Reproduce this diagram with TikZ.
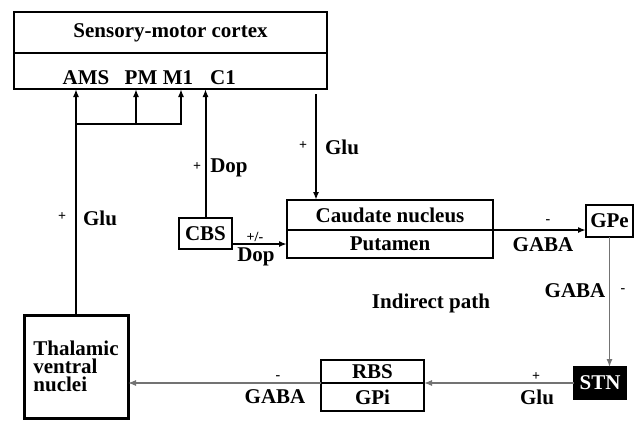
\documentclass[tikz,border=0pt]{standalone}
\usepackage{fontspec}
\setmainfont{Liberation Serif}
\usetikzlibrary{arrows.meta}
\newlength{\boxlinewidth}
\setlength{\boxlinewidth}{1pt}

\begin{document}
\begin{tikzpicture}[x=0.5pt,y=-0.5pt,
        font=\bfseries\fontsize{10.5}{9}\selectfont,
        box/.style={rectangle,draw,line width=\boxlinewidth,inner sep=0pt,outer sep=0pt},
        lbl/.style={inner sep=0pt},
        sign/.style={inner sep=0pt,font=\bfseries\fontsize{7}{8}\selectfont},
        arr/.style={-{Latex[length=4pt,width=3pt]},line width=1pt},
        thinarr/.style={-{Latex[length=4pt,width=3pt]},line width=0.6pt,draw=black!55},
    ]
    \useasboundingbox (0,0) rectangle (638,420);
    % cortex
    \node[box,minimum width=156.5pt,minimum height=20.5pt] (ctxtop) at (170.5,32.5) {Sensory-motor cortex};
    \node[box,minimum width=156.5pt,minimum height=18pt] (ctxbot) at (170.5,71) {};
    \node[lbl] (ams) at (86,78) {AMS};
    \node[lbl] (pm) at (141,78) {PM};
    \node[lbl] (m1) at (178,78) {M1};
    \node[lbl] (c1) at (223,78) {C1};
    \coordinate (pmin) at (136,89);
    \coordinate (m1in) at (181,89);
    \coordinate (jl) at (76,124);
    \coordinate (glutop) at (316,94);
    % boxes
    \node[box,line width=1.5pt,minimum width=52pt,minimum height=51.5pt,align=left] (thal) at (76,366.5) {Thalamic\\ventral\\nuclei};
    \node[box,minimum width=26.5pt,minimum height=15.5pt] (cbs) at (205.5,233.5) {CBS};
    \node[box,minimum width=103pt,minimum height=15pt] (caud) at (390,215) {Caudate nucleus};
    \node[box,minimum width=103pt,minimum height=14pt] (put) at (390,244) {Putamen};
    \node[box,minimum width=23.5pt,minimum height=16pt] (gpe) at (609.5,221) {GPe};
    \node[box,fill=black,text=white,minimum width=26pt,minimum height=16pt] (stn) at (600,383) {STN};
    \node[box,minimum width=51.5pt,minimum height=11.5pt] (rbs) at (372.5,371.5) {RBS};
    \node[box,minimum width=51.5pt,minimum height=14pt] (gpi) at (372.5,397) {GPi};
    % connectors
    \draw[arr] (thal.north) -- (thal.north |- ctxbot.south);
    \draw[arr] (jl) -| (m1in);
    \draw[arr] (jl -| pmin) -- (pmin);
    \draw[arr] (cbs.north) -- (cbs.north |- ctxbot.south);
    \draw[arr] (glutop) -- (glutop |- caud.north);
    \draw[arr] (put.west -| cbs.east) -- (put.west);
    \draw[arr] (put.north east) -- (put.north east -| gpe.west);
    \draw[thinarr] (gpe.south) -- (gpe.south |- stn.north);
    \draw[thinarr] (stn.west) -- (rbs.south east);
    \draw[thinarr] (rbs.south west) -- (rbs.south west -| thal.east);
    % labels
    \node[sign] (p1) at (62,217) {+};
    \node[lbl] (glu1) at (100,218) {Glu};
    \node[sign] (p2) at (197,167) {+};
    \node[lbl] (dop1) at (229,168) {Dop};
    \node[sign] (p3) at (303,146) {+};
    \node[lbl] (glu2) at (342,147) {Glu};
    \node[sign] (pm1) at (255,237) {+/-};
    \node[lbl] (dop2) at (256,257) {Dop};
    \node[sign] (m2) at (548,222) {-};
    \node[lbl] (gaba1) at (543,245) {GABA};
    \node[lbl] (gaba2) at (575,291) {GABA};
    \node[sign] (m3) at (623,291) {-};
    \node[lbl] (ind) at (431,303) {Indirect path};
    \node[sign] (p4) at (536,377) {+};
    \node[lbl] (glu3) at (537,397) {Glu};
    \node[sign] (m4) at (278,378) {-};
    \node[lbl] (gaba3) at (275,397) {GABA};
\end{tikzpicture}
\end{document}
